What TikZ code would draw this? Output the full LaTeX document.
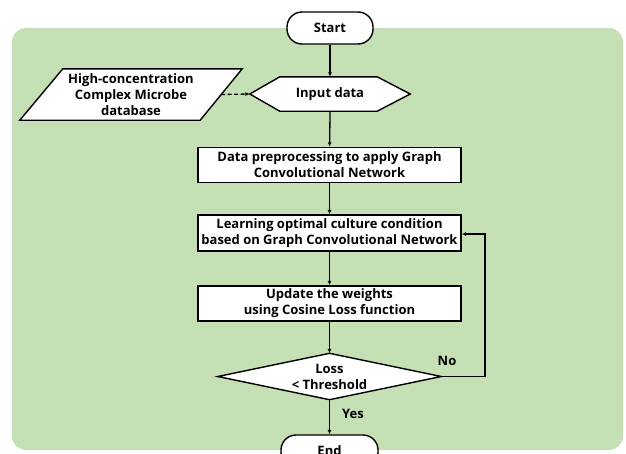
\documentclass[tikz,border=0pt]{standalone}
\usepackage{fontspec}
\setmainfont{Open Sans}[BoldFont={* Bold}]
\usetikzlibrary{arrows.meta,calc}
\definecolor{bggreen}{HTML}{C5E0B4}
\tikzset{
  txt/.style={font=\bfseries\fontsize{13}{16}\selectfont, align=center, inner sep=0pt},
  procbox/.style={txt, draw=black, fill=white, line width=1.4pt, minimum width=263, minimum height=35},
  termbox/.style={txt, draw=black, fill=white, line width=1.4pt, minimum width=86, minimum height=32, rounded corners=15},
  outline/.style={draw=black, fill=white, line width=1.4pt, line join=miter},
  conn/.style={line width=1.3pt, -{Latex[length=4.5pt,width=4pt]}},
  lbl/.style={font=\bfseries\fontsize{13}{15}\selectfont, inner sep=0pt}
}
\begin{document}
\begin{tikzpicture}[x=1pt,y=-1pt]
\useasboundingbox (0,0) rectangle (626,453);
\fill[bggreen, rounded corners=14] (12,28) rectangle (623,450);

% Start
\node[termbox] (start) at (330,28) {Start};

% Input data hexagon
\node[txt, minimum width=160, minimum height=34] (inp) at (330,94) {};
\path[outline] (inp.west) -- ([xshift=30]inp.north west) -- ([xshift=-33]inp.north east) -- (inp.east) -- ([xshift=-33]inp.south east) -- ([xshift=30]inp.south west) -- cycle;
\node[txt] at (inp.center) {Input data};

% Database parallelogram
\node[txt, minimum width=222, minimum height=51] (db) at (131,94.5) {};
\path[outline] ([xshift=43]db.north west) -- (db.north east) -- ([xshift=-42]db.south east) -- (db.south west) -- cycle;
\node[txt] at (db.center) {High-concentration\\Complex Microbe\\database};
\coordinate (dbr) at ([xshift=-21]db.east);

% Process boxes
\node[procbox] (prep) at (329.5,165) {Data preprocessing to apply Graph\\Convolutional Network};
\node[procbox, minimum height=36] (learn) at (329.5,233) {Learning optimal culture condition\\based on Graph Convolutional Network};
\node[procbox] (upd) at (329.5,303.5) {Update the weights\\using Cosine Loss function};

% Decision diamond
\node[txt, minimum width=223, minimum height=46] (dec) at (329.5,376.5) {};
\path[outline] (dec.west) -- (dec.north) -- (dec.east) -- (dec.south) -- cycle;
\node[txt] at (dec.center) {Loss\\{<} Threshold};

% End
\node[termbox, minimum width=97, minimum height=32] (end) at (329.5,451) {End};

% Connectors
\draw[conn] (start) -- (inp.north);
\draw[conn, dashed, dash pattern=on 4pt off 2.5pt] (dbr) -- (inp.west);
\draw[conn] (inp.south) -- (prep);
\draw[conn] (prep) -- (learn);
\draw[conn] (learn) -- (upd);
\draw[conn] (upd) -- (dec.north);
\draw[conn] (dec.south) -- (end);
\coordinate (loop) at (485,234);
\draw[conn] (dec.east) -| (loop) -- (learn.east |- loop);

% Labels
\node[lbl] (no) at (447,361) {No};
\node[lbl] (yes) at (353,414) {Yes};
\end{tikzpicture}
\end{document}
